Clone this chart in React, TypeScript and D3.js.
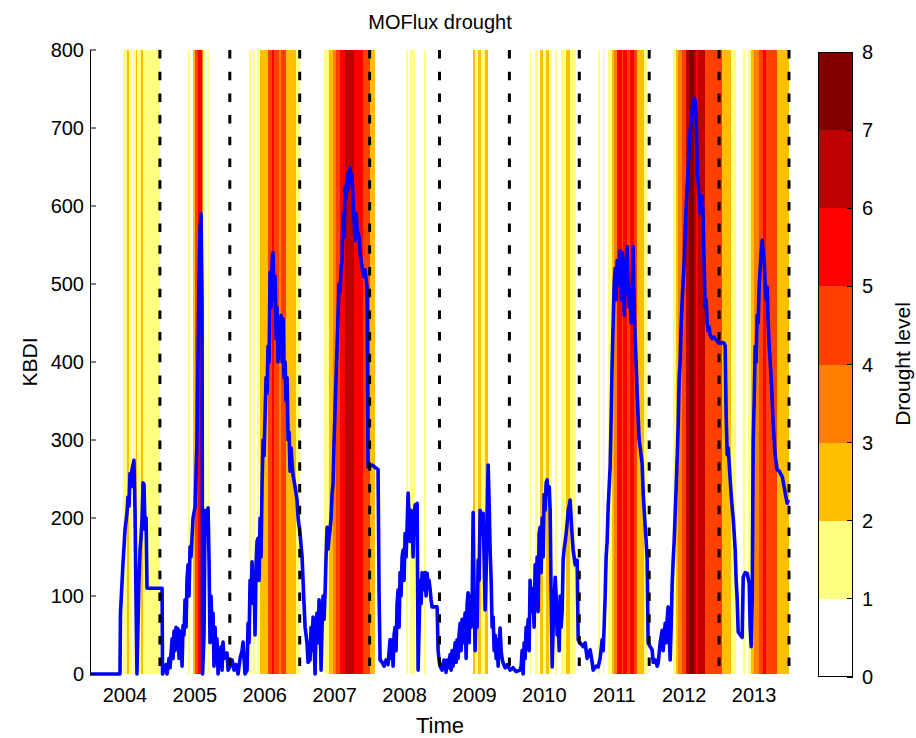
import React from 'react';
import * as d3 from 'd3';

// ---------- DATA ----------
// years since 2004-01-01
const yearLabels = ['2004', '2005', '2006', '2007', '2008', '2009', '2010', '2011', '2012', '2013'];
const yearLabelPos = [0.5, 1.5, 2.5, 3.5, 4.5, 5.5, 6.5, 7.5, 8.5, 9.5];
const yearBoundaries = [1, 2, 3, 4, 5, 6, 7, 8, 9, 10];
const kbdiTicks = [0, 100, 200, 300, 400, 500, 600, 700, 800];
const levelTicks = [0, 1, 2, 3, 4, 5, 6, 7, 8];
const levelColors = ['#FFFFFF', '#FFFF80', '#FFBF00', '#FF8000', '#FF4000', '#FF0000', '#BF0000', '#800000'];

const bandStart = [
  0.472, 0.529, 0.558, 0.615, 0.658, 0.672, 0.730, 0.758,
  1.402, 1.474, 1.502, 1.545, 1.602, 1.617, 1.688,
  2.275, 2.332, 2.389, 2.432, 2.546, 2.604, 2.632, 2.704, 2.732, 2.804, 2.947,
  3.348, 3.419, 3.476, 3.519, 3.577, 3.648, 3.777, 3.906, 4.006,
  4.521, 4.578, 4.778,
  5.479, 5.508, 5.551, 5.594, 5.651,
  6.295, 6.366, 6.438, 6.481, 6.524, 6.566, 6.652, 6.738, 6.810, 6.867,
  7.267, 7.339, 7.410, 7.468, 7.496, 7.539, 7.611, 7.625, 7.682, 7.725, 7.782, 7.825, 7.926,
  8.340, 8.383, 8.412, 8.469, 8.526, 8.569, 8.641, 8.670, 8.698, 8.798, 9.041, 9.170, 9.342,
  9.413, 9.456, 9.499, 9.571, 9.628, 9.671, 9.828,
];
const bandEnd = [
  0.529, 0.558, 0.601, 0.658, 0.672, 0.730, 0.758, 1.001,
  1.431, 1.502, 1.545, 1.602, 1.617, 1.645, 1.702,
  2.318, 2.361, 2.418, 2.546, 2.604, 2.632, 2.704, 2.732, 2.804, 2.947, 3.004,
  3.419, 3.476, 3.519, 3.577, 3.648, 3.777, 3.906, 4.006, 4.077,
  4.549, 4.649, 4.807,
  5.508, 5.551, 5.594, 5.651, 5.694,
  6.309, 6.409, 6.481, 6.524, 6.566, 6.609, 6.681, 6.795, 6.867, 6.953,
  7.296, 7.353, 7.468, 7.496, 7.539, 7.611, 7.625, 7.682, 7.725, 7.782, 7.825, 7.926, 7.968,
  8.383, 8.412, 8.469, 8.526, 8.569, 8.641, 8.670, 8.698, 8.798, 9.041, 9.170, 9.242, 9.371,
  9.456, 9.499, 9.571, 9.628, 9.671, 9.828, 10.0,
];
const bandLevel = [
  1, 2, 1, 1, 2, 1, 2, 1,
  1, 2, 4, 5, 3, 1, 1,
  1, 1, 1, 2, 4, 5, 4, 3, 4, 2, 1,
  1, 2, 3, 4, 5, 6, 5, 4, 2,
  1, 1, 1,
  2, 1, 2, 1, 2,
  1, 1, 2, 1, 2, 1, 1, 1, 2, 1,
  1, 1, 1, 2, 3, 5, 4, 5, 4, 5, 4, 2, 1,
  1, 2, 3, 4, 6, 7, 6, 5, 6, 4, 2, 1, 1,
  1, 2, 3, 4, 5, 4, 2,
];

const kbdiYears = [
  0.000, 0.429, 0.436, 0.472, 0.501, 0.529, 0.543, 0.558, 0.572, 0.586, 0.601, 0.629, 0.644, 0.658, 0.672,
  0.687, 0.701, 0.716, 0.730, 0.745, 0.759, 0.773, 0.788, 0.802, 0.816, 1.031, 1.038,
  1.059, 1.088, 1.102, 1.131, 1.145, 1.174, 1.188, 1.202, 1.217, 1.231, 1.245, 1.259, 1.274, 1.288, 1.302,
  1.317, 1.331, 1.345, 1.360, 1.374, 1.388, 1.402, 1.417, 1.431, 1.445, 1.474, 1.503, 1.531, 1.545, 1.560,
  1.574, 1.588, 1.603, 1.610, 1.631, 1.646, 1.660, 1.674, 1.689, 1.703, 1.717, 1.732, 1.746, 1.760, 1.774,
  1.789, 1.803, 1.817, 1.832, 1.846, 1.860, 1.875, 1.889, 1.903, 1.917, 1.946, 1.960, 1.975, 2.003, 2.032,
  2.061, 2.089, 2.118, 2.147, 2.175, 2.190, 2.204, 2.218, 2.247,
  2.261, 2.275, 2.290, 2.304, 2.318, 2.333, 2.347, 2.361, 2.376, 2.390, 2.404, 2.419, 2.433, 2.447, 2.462,
  2.476, 2.490, 2.504, 2.519, 2.533, 2.547, 2.562, 2.576, 2.590, 2.605, 2.619, 2.633, 2.648, 2.662, 2.676,
  2.690, 2.705, 2.719, 2.733, 2.748, 2.762, 2.776, 2.791, 2.805, 2.819, 2.834, 2.848, 2.862, 2.876, 2.891,
  2.905, 2.934, 2.962, 2.977, 3.005, 3.034, 3.048, 3.062, 3.077, 3.105, 3.120, 3.148, 3.163, 3.177, 3.191,
  3.205, 3.220, 3.234, 3.248, 3.263, 3.277, 3.291, 3.306, 3.320, 3.334, 3.349,
  3.363, 3.377, 3.392, 3.406, 3.420, 3.434, 3.449, 3.463, 3.477, 3.492, 3.506, 3.520, 3.535, 3.549, 3.563,
  3.578, 3.592, 3.606, 3.621, 3.635, 3.649, 3.663, 3.678, 3.692, 3.706, 3.721, 3.735, 3.749, 3.764, 3.778,
  3.792, 3.807, 3.821, 3.835, 3.850, 3.864, 3.878, 3.893, 3.907, 3.921, 3.935, 3.950, 3.964, 3.978, 4.035,
  4.121, 4.136, 4.150, 4.179, 4.207, 4.236, 4.264, 4.293,
  4.307, 4.322, 4.336, 4.350, 4.365, 4.379, 4.393, 4.408, 4.422, 4.436, 4.450, 4.465, 4.479, 4.493, 4.508,
  4.522, 4.536, 4.551, 4.565, 4.579, 4.594, 4.608, 4.622, 4.637, 4.651, 4.665, 4.680, 4.694, 4.708, 4.722,
  4.737, 4.751, 4.765, 4.780, 4.794, 4.808, 4.823, 4.837, 4.851, 4.866, 4.880, 4.894, 4.937, 4.966, 4.980,
  4.994, 5.009,
  5.037, 5.066, 5.094, 5.109, 5.123, 5.152, 5.166, 5.180, 5.195, 5.223, 5.238, 5.252, 5.266, 5.280, 5.295,
  5.309, 5.323, 5.338, 5.352, 5.366, 5.381, 5.395, 5.409, 5.424, 5.438, 5.452, 5.467, 5.481, 5.495, 5.510,
  5.524, 5.538, 5.553, 5.567, 5.581, 5.595, 5.610, 5.624, 5.638, 5.653, 5.667, 5.681, 5.696, 5.710, 5.724,
  5.739, 5.753, 5.767, 5.782, 5.796, 5.810, 5.825, 5.839, 5.853, 5.867, 5.882, 5.896, 5.910, 5.939, 5.968,
  6.010, 6.053, 6.096, 6.153,
  6.168, 6.182, 6.196, 6.211, 6.225, 6.239, 6.254, 6.268, 6.282, 6.296, 6.311, 6.325, 6.339, 6.354, 6.368,
  6.382, 6.397, 6.411, 6.425, 6.440, 6.454, 6.468, 6.483, 6.497, 6.511, 6.526, 6.540, 6.554, 6.569, 6.583,
  6.597, 6.612, 6.626, 6.640, 6.655, 6.669, 6.683, 6.697, 6.712, 6.726, 6.740, 6.755, 6.769, 6.783, 6.798,
  6.812, 6.826, 6.841, 6.855, 6.869, 6.883, 6.898, 6.912, 6.926, 6.941, 6.969, 6.984, 7.012, 7.055, 7.084,
  7.112, 7.155, 7.184, 7.198, 7.241, 7.270, 7.298, 7.327, 7.341, 7.355, 7.370, 7.384, 7.398, 7.413, 7.427,
  7.441,
  7.456, 7.470, 7.484, 7.499, 7.513, 7.527, 7.541, 7.556, 7.570, 7.584, 7.599, 7.613, 7.627, 7.642, 7.656,
  7.670, 7.685, 7.699, 7.713, 7.727, 7.742, 7.756, 7.770, 7.785, 7.799, 7.813, 7.828, 7.842, 7.856, 7.871,
  7.885, 7.899, 7.914, 7.928, 7.942, 7.957, 7.971, 7.985, 8.014, 8.042, 8.057, 8.085, 8.114, 8.128, 8.157,
  8.186, 8.200, 8.214, 8.229, 8.243, 8.257, 8.271, 8.286, 8.300, 8.314, 8.329, 8.343, 8.357, 8.372, 8.386,
  8.400,
  8.415, 8.429, 8.443, 8.458, 8.472, 8.486, 8.501, 8.515, 8.529, 8.544, 8.558, 8.572, 8.586, 8.601, 8.615,
  8.629, 8.644, 8.658, 8.672, 8.687, 8.701, 8.715, 8.729, 8.744, 8.758, 8.772, 8.787, 8.801, 8.815, 8.830,
  8.844, 8.858, 8.872, 8.901, 8.930, 8.958, 8.987, 9.015, 9.044, 9.073, 9.087, 9.101, 9.116, 9.130, 9.144,
  9.158, 9.173, 9.187, 9.201, 9.216, 9.230, 9.244, 9.259, 9.273, 9.302, 9.330, 9.345, 9.373, 9.402, 9.431,
  9.445, 9.459, 9.474,
  9.488, 9.502, 9.516, 9.531, 9.545, 9.559, 9.574, 9.588, 9.602, 9.617, 9.631, 9.645, 9.660, 9.674, 9.688,
  9.702, 9.717, 9.731, 9.745, 9.760, 9.774, 9.788, 9.803, 9.817, 9.831, 9.860, 9.903, 9.931, 9.946, 9.974,
  9.995,
];
const kbdiValues = [
  0, 0, 78, 142, 185, 206, 227, 215, 257, 240, 262, 274, 210, 100, 0,
  65, 120, 159, 175, 200, 245, 243, 185, 200, 110, 110, 0,
  5, 12, 0, 20, 8, 45, 20, 55, 30, 60, 35, 58, 20, 55, 40,
  10, 62, 50, 95, 60, 120, 140, 100, 163, 150, 200, 214, 300, 400, 505,
  569, 590, 480, 0, 50, 210, 180, 205, 213, 146, 40, 100, 55, 78, 10,
  60, 20, 45, 0, 30, 10, 35, 5, 41, 20, 25, 27, 5, 10, 18,
  5, 12, 0, 20, 30, 41, 20, 0, 5,
  65, 40, 120, 90, 144, 100, 130, 50, 140, 170, 174, 120, 200, 150, 245,
  300, 280, 330, 380, 360, 420, 400, 515, 470, 530, 540, 480, 510, 430, 470,
  400, 440, 420, 460, 400, 455, 380, 400, 350, 380, 300, 310, 260, 290, 270,
  255, 240, 223, 200, 180, 150, 120, 90, 60, 40, 15, 18, 60, 30, 73,
  40, 0, 60, 78, 40, 95, 70, 5, 60, 100, 70,
  104, 150, 188, 160, 175, 185, 200, 230, 245, 300, 340, 380, 420, 460, 500,
  490, 520, 530, 590, 560, 625, 610, 640, 620, 640, 649, 630, 640, 608, 580,
  556, 590, 570, 565, 560, 540, 530, 522, 510, 515, 518, 505, 496, 265, 268,
  262, 100, 18, 15, 10, 18, 12, 44,
  20, 44, 10, 50, 60, 30, 90, 108, 60, 130, 100, 150, 159, 120, 180,
  150, 188, 232, 200, 170, 210, 202, 150, 200, 217, 180, 219, 5, 60, 120,
  90, 130, 108, 120, 130, 100, 129, 110, 120, 108, 95, 86, 86, 86, 30,
  18, 10,
  5, 18, 2, 18, 8, 25, 5, 30, 10, 40, 15, 44, 20, 50, 65,
  30, 70, 40, 60, 78, 20, 90, 104, 40, 100, 60, 90, 207, 100, 30,
  100, 60, 146, 120, 210, 180, 200, 206, 150, 82, 130, 200, 268, 220, 159,
  120, 60, 73, 30, 50, 20, 44, 10, 40, 59, 30, 20, 14, 8, 12,
  5, 8, 3, 5,
  10, 30, 0, 40, 20, 60, 40, 70, 30, 120, 80, 110, 99, 60, 140,
  100, 150, 80, 180, 188, 130, 200, 150, 230, 210, 245, 249, 230, 240, 210,
  100, 9, 60, 90, 124, 100, 50, 73, 30, 100, 60, 82, 146, 160, 170,
  180, 193, 210, 215, 223, 200, 176, 159, 150, 140, 146, 44, 40, 35, 40,
  20, 31, 15, 5, 10, 9, 20, 44, 30, 60, 99, 150, 170, 214, 240,
  265,
  330, 400, 450, 500, 520, 480, 530, 528, 500, 543, 480, 540, 520, 460, 510,
  530, 548, 500, 470, 496, 450, 480, 548, 470, 430, 400, 360, 330, 300, 290,
  280, 270, 232, 210, 190, 170, 146, 40, 35, 31, 15, 18, 10, 14, 40,
  56, 30, 50, 65, 40, 70, 86, 50, 18, 60, 117, 146, 170, 206, 240,
  278,
  320, 380, 400, 450, 480, 505, 530, 567, 600, 625, 650, 680, 697, 710, 723,
  730, 738, 735, 714, 642, 629, 610, 591, 600, 612, 582, 520, 470, 480, 450,
  440, 445, 435, 430, 432, 428, 425, 424, 425, 424, 420, 330, 281, 290, 270,
  250, 230, 214, 200, 180, 159, 120, 95, 54, 50, 47, 124, 130, 129, 116,
  60, 35, 100,
  300, 350, 420, 400, 460, 450, 500, 520, 540, 556, 540, 530, 500, 480, 496,
  450, 420, 400, 380, 350, 320, 300, 280, 270, 262, 260, 253, 240, 232, 219,
  223,
];

const FONT = 'Liberation Sans, Arial, Helvetica, sans-serif';

export default function App() {
  const W = 916;
  const H = 738;
  const left = 90, right = 789, top = 50, bottom = 674;
  const x = d3.scaleLinear().domain([0, 10]).range([left, right]);
  const y = d3.scaleLinear().domain([0, 800]).range([bottom, top]);
  const cbX0 = 818, cbX1 = 853;
  const cb = d3.scaleLinear().domain([0, 8]).range([677, 52]);

  const line = d3
    .line<number>()
    .x((_, i) => x(kbdiYears[i]))
    .y((d) => y(d));
  const pathD = line(kbdiValues) || '';

  return (
    <svg
      width={W}
      height={H}
      viewBox={`0 0 ${W} ${H}`}
      style={{ position: 'absolute', left: 0, top: 0, background: '#fff' }}
      fontFamily={FONT}
    >
      <rect x={0} y={0} width={W} height={H} fill="#fff" />
      <defs>
        <clipPath id="plotClip">
          <rect x={left} y={top} width={right - left} height={bottom - top} />
        </clipPath>
      </defs>
      {/* drought bands */}
      <g clipPath="url(#plotClip)" shapeRendering="crispEdges">
        {bandStart.map((s, i) => (
          <rect
            key={i}
            x={x(s)}
            y={top}
            width={Math.max(0.8, x(bandEnd[i]) - x(s))}
            height={bottom - top}
            fill={levelColors[bandLevel[i]]}
          />
        ))}
      </g>
      {/* KBDI line */}
      <path d={pathD} fill="none" stroke="#0000FF" strokeWidth={3.6} strokeLinejoin="round" />
      {/* year boundaries */}
      {yearBoundaries.map((b) => (
        <line
          key={b}
          x1={x(b)}
          x2={x(b)}
          y1={top}
          y2={bottom}
          stroke="#000"
          strokeWidth={3}
          strokeDasharray="8.5 13.2"
        />
      ))}
      {/* left axis */}
      <line x1={left + 0.5} x2={left + 0.5} y1={top} y2={bottom} stroke="#000" strokeWidth={1} />
      {kbdiTicks.map((t) => (
        <g key={t}>
          <line x1={left} x2={left + 6} y1={y(t)} y2={y(t)} stroke="#000" strokeWidth={1} />
          <text x={left - 6} y={y(t)} dy="0.35em" textAnchor="end" fontSize={20} fill="#000">
            {t}
          </text>
        </g>
      ))}
      {yearLabels.map((l, i) => (
        <text key={l} x={x(yearLabelPos[i])} y={702} textAnchor="middle" fontSize={20} fill="#000">
          {l}
        </text>
      ))}
      <text x={440} y={733} textAnchor="middle" fontSize={22} fill="#000">
        Time
      </text>
      <text
        transform={`translate(37, ${(top + bottom) / 2}) rotate(-90)`}
        textAnchor="middle"
        fontSize={21}
        fill="#000"
      >
        KBDI
      </text>
      <text x={440} y={29} textAnchor="middle" fontSize={20} fill="#000">
        MOFlux drought
      </text>
      {/* colorbar */}
      <g shapeRendering="crispEdges">
        {levelColors.map((c, i) => (
          <rect key={i} x={cbX0} y={cb(i + 1)} width={cbX1 - cbX0} height={cb(i) - cb(i + 1)} fill={c} />
        ))}
        <rect x={cbX0 + 0.5} y={cb(8) + 0.5} width={cbX1 - cbX0 - 1} height={cb(0) - cb(8) - 1} fill="none" stroke="#000" strokeWidth={1.5} />
        {levelTicks.map((t) => (
          <line key={t} x1={cbX1 - 6} x2={cbX1} y1={cb(t)} y2={cb(t)} stroke="#000" strokeWidth={1} />
        ))}
      </g>
      {levelTicks.map((t) => (
        <text key={t} x={862} y={cb(t)} dy="0.35em" fontSize={20} fill="#000">
          {t}
        </text>
      ))}
      <text
        transform={`translate(910, 364) rotate(-90)`}
        textAnchor="middle"
        fontSize={21}
        fill="#000"
      >
        Drought level
      </text>
    </svg>
  );
}
